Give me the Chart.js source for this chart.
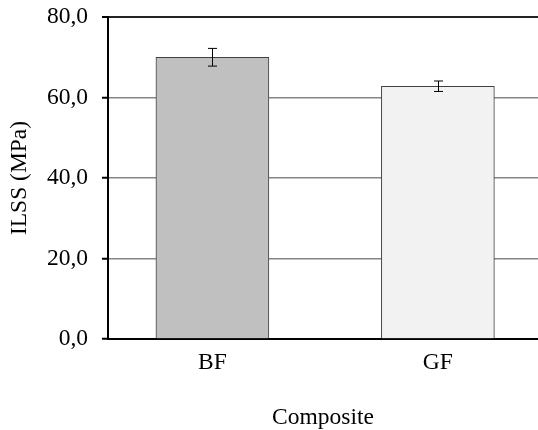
<!DOCTYPE html>
<html>
<head>
<meta charset="utf-8">
<script src="https://cdn.jsdelivr.net/npm/chart.js@4.4.1/dist/chart.umd.min.js"></script>
<style>
  html, body { margin: 0; padding: 0; background: #fff; overflow: hidden; }
  canvas { display: block; }
</style>
</head>
<body>
<canvas id="ilssChart" width="538" height="430"></canvas>
<script>
// ILSS per composite
const composites = ['BF', 'GF'];
const ilss = [70.0, 62.8];
const ilssErr = [2.2, 1.3];
const barColors = ['#c0c0c0', '#f2f2f2'];
const yTicks = [0, 20, 40, 60, 80];

// x runs as a linear scale so the bars sit where Excel put them
const X_MIN = -0.463;
const X_MAX = 1.444;

const fmt = v => v.toFixed(1).replace('.', ',');

const errorBars = {
  id: 'errorBars',
  afterDatasetsDraw(chart) {
    const { ctx, scales: { x, y } } = chart;
    ctx.save();
    ctx.strokeStyle = '#000';
    ctx.lineWidth = 1;
    ilss.forEach((v, i) => {
      const px = Math.round(x.getPixelForValue(i)) + 0.5;
      const top = y.getPixelForValue(v + ilssErr[i]);
      const bot = y.getPixelForValue(v - ilssErr[i]);
      ctx.beginPath();
      ctx.moveTo(px, top); ctx.lineTo(px, bot);
      ctx.moveTo(px - 4.5, top); ctx.lineTo(px + 4.5, top);
      ctx.moveTo(px - 4.5, bot); ctx.lineTo(px + 4.5, bot);
      ctx.stroke();
    });
    ctx.restore();
  }
};

const serif = { family: '"Liberation Serif", "Times New Roman", serif', size: 23.5 };

new Chart(document.getElementById('ilssChart'), {
  type: 'bar',
  data: {
    datasets: [{
      data: ilss.map((v, i) => ({ x: i, y: v })),
      backgroundColor: barColors,
      borderColor: '#404040',
      borderWidth: 1,
      borderSkipped: 'bottom',
      barThickness: 113,
    }],
  },
  options: {
    responsive: false,
    devicePixelRatio: 1,
    animation: false,
    layout: { padding: { top: 17, right: 0, bottom: 0, left: 0 } },
    plugins: { legend: { display: false }, tooltip: { enabled: false } },
    scales: {
      x: {
        type: 'linear',
        min: X_MIN,
        max: X_MAX,
        offset: false,
        afterBuildTicks: s => { s.ticks = [{ value: X_MIN }, { value: 0 }, { value: 1 }]; },
        afterFit: s => { s.height = 91; s.paddingLeft = 0; s.paddingRight = 0; },
        ticks: {
          color: '#000',
          font: serif,
          padding: 4,
          maxRotation: 0,
          callback: v => composites[v] ?? '',
        },
        grid: {
          drawOnChartArea: false,
          tickLength: 6,
          tickColor: c => (c.tick && c.tick.value === X_MIN ? '#000' : 'rgba(0,0,0,0)'),
          tickWidth: 2,
        },
        border: { color: '#000', width: 2 },
        title: {
          display: true,
          text: 'Composite',
          color: '#000',
          font: serif,
          padding: { top: 0, bottom: -2 },
        },
      },
      y: {
        min: 0,
        max: 80,
        afterBuildTicks: s => { s.ticks = yTicks.map(v => ({ value: v })); },
        afterFit: s => { s.width = 108; s.paddingTop = 0; s.paddingBottom = 0; },
        ticks: {
          color: '#000',
          font: serif,
          padding: 14,
          callback: v => fmt(v),
        },
        grid: {
          color: c => (c.tick && c.tick.value === 80 ? '#222' : '#868686'),
          lineWidth: c => (c.tick && c.tick.value === 80 ? 2 : 1.5),
          tickColor: '#000',
          tickWidth: 2,
          tickLength: 6,
        },
        border: { color: '#000', width: 2 },
        title: {
          display: true,
          text: 'ILSS (MPa)',
          color: '#000',
          font: serif,
          padding: { top: 6, bottom: 0 },
        },
      },
    },
  },
  plugins: [errorBars],
});
</script>
</body>
</html>
